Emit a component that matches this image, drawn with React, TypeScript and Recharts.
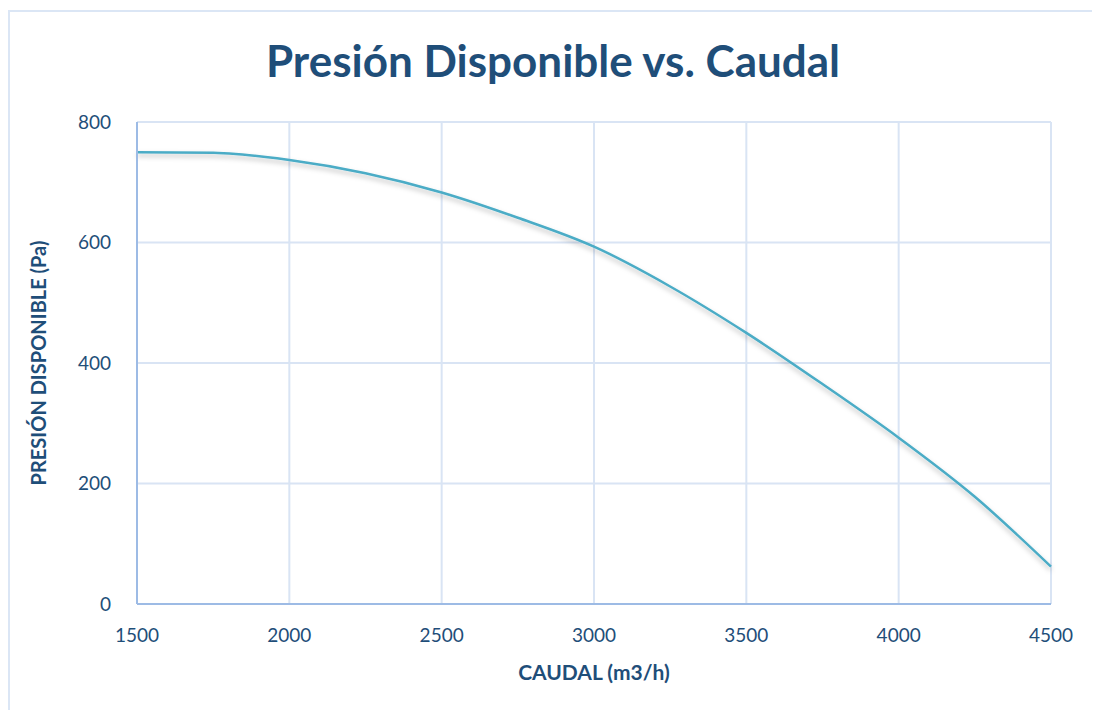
import { CartesianGrid, Label, Line, LineChart, XAxis, YAxis } from 'recharts'

const caudal = [1500, 1750, 2000, 2250, 2500, 2750, 3000, 3250, 3500, 3750, 4000, 4250, 4500]
const presion = [750, 749, 737, 715, 683, 641, 593, 527, 450, 365, 276, 178, 62]
const xTicks = [1500, 2000, 2500, 3000, 3500, 4000, 4500]
const yTicks = [0, 200, 400, 600, 800]

const data = caudal.map((q, i) => ({ caudal: q, presion: presion[i] }))

const navy = '#1f4e79'
const font = 'Lato, "Noto Sans", sans-serif'

export default function App() {
  return (
    <div
      style={{
        position: 'relative',
        marginTop: 2,
        width: 1086,
        height: 720,
        border: '2px solid #dbe6f5',
        borderBottom: 'none',
        background: '#fff',
        fontFamily: font,
      }}
    >
      <div
        style={{
          position: 'absolute',
          top: 22,
          left: 0,
          width: 1086,
          textAlign: 'center',
          fontSize: 44,
          fontWeight: 700,
          color: navy,
        }}
      >
        Presión Disponible vs. Caudal
      </div>
      <LineChart
        width={1086}
        height={700}
        data={data}
        margin={{ top: 110, right: 45, bottom: 68, left: 67 }}
        style={{ position: 'absolute', left: 0, top: 0 }}
      >
        <defs>
          <filter id="lineShadow" x="-5%" y="-20%" width="110%" height="140%">
            <feDropShadow dx="0" dy="3" stdDeviation="2.5" floodColor="#000" floodOpacity="0.25" />
          </filter>
        </defs>
        <CartesianGrid stroke="#d9e4f4" strokeWidth={2} />
        <XAxis
          dataKey="caudal"
          type="number"
          domain={[1500, 4500]}
          ticks={xTicks}
          tickLine={false}
          axisLine={{ stroke: '#9dbbe5', strokeWidth: 2 }}
          tick={{ fill: navy, fontSize: 19, fontFamily: font }}
          tickMargin={19}
          height={40}
        >
          <Label
            value="CAUDAL (m3/h)"
            position="insideBottom"
            offset={-36}
            style={{ fill: navy, fontSize: 21, fontWeight: 700, fontFamily: font }}
          />
        </XAxis>
        <YAxis
          type="number"
          domain={[0, 800]}
          ticks={yTicks}
          tickLine={false}
          axisLine={{ stroke: '#9dbbe5', strokeWidth: 2 }}
          tick={{ fill: navy, fontSize: 19, fontFamily: font }}
          tickMargin={20}
          width={60}
        >
          <Label
            value="PRESIÓN DISPONIBLE (Pa)"
            angle={-90}
            position="insideLeft"
            offset={-38}
            style={{ fill: navy, fontSize: 20, fontWeight: 700, fontFamily: font, textAnchor: 'middle' }}
          />
        </YAxis>
        <Line
          type="monotone"
          dataKey="presion"
          stroke="#4bacc6"
          strokeWidth={2.5}
          dot={false}
          activeDot={false}
          isAnimationActive={false}
          style={{ filter: 'url(#lineShadow)' }}
        />
      </LineChart>
    </div>
  )
}
